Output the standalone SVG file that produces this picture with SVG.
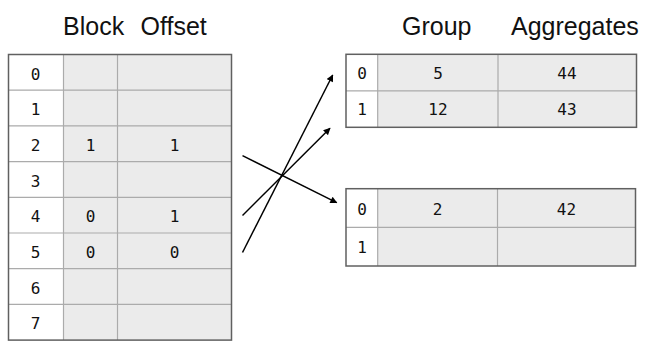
<svg xmlns="http://www.w3.org/2000/svg" width="652" height="351" viewBox="0 0 652 351">
<defs>
<style>
.hdr{font-family:"Liberation Sans",Arial,sans-serif;font-size:25px;fill:#111;}
.num{font-family:"DejaVu Sans Mono",monospace;font-size:16px;fill:#111;text-anchor:middle;}
.cell{fill:#ebebeb;}
.white{fill:#ffffff;}
.grid{stroke:#ababab;stroke-width:1.2;fill:none;}
.outer{stroke:#606060;stroke-width:1.5;fill:none;}
.conn{stroke:#000;stroke-width:1.5;fill:none;marker-end:url(#arr);}
</style>
<marker id="arr" viewBox="0 0 10 10" refX="9" refY="5" markerWidth="8" markerHeight="7" markerUnits="userSpaceOnUse" orient="auto">
<path d="M0,0 L10,5 L0,10 z" fill="#000"/>
</marker>
</defs>
<rect width="652" height="351" fill="#ffffff"/>

<g id="headers">
<text class="hdr" x="63" y="35">Block</text>
<text class="hdr" x="140.5" y="35">Offset</text>
<text class="hdr" x="402" y="35">Group</text>
<text class="hdr" x="511" y="35">Aggregates</text>
</g>

<g id="block-offset-table">
<rect class="white" x="8.5" y="54.5" width="55" height="285.6"/>
<rect class="cell" x="63.5" y="54.5" width="168" height="285.6"/>
<path class="grid" d="M63.5,54.5V340.1M117.5,54.5V340.1M8.5,90.2H231.5M8.5,125.9H231.5M8.5,161.6H231.5M8.5,197.3H231.5M8.5,233H231.5M8.5,268.7H231.5M8.5,304.4H231.5"/>
<rect class="outer" x="8.5" y="54.5" width="223" height="285.6"/>
<text class="num" x="35.5" y="79.5">0</text>
<text class="num" x="35.5" y="115.2">1</text>
<text class="num" x="35.5" y="150.9">2</text>
<text class="num" x="35.5" y="186.6">3</text>
<text class="num" x="35.5" y="222.3">4</text>
<text class="num" x="35.5" y="258">5</text>
<text class="num" x="35.5" y="293.7">6</text>
<text class="num" x="35.5" y="329.4">7</text>
<text class="num" x="90.5" y="150.9">1</text>
<text class="num" x="174.5" y="150.9">1</text>
<text class="num" x="90.5" y="222.3">0</text>
<text class="num" x="174.5" y="222.3">1</text>
<text class="num" x="90.5" y="258">0</text>
<text class="num" x="174.5" y="258">0</text>
</g>

<g id="group-table-1">
<rect class="white" x="346" y="54.3" width="31.7" height="73"/>
<rect class="cell" x="377.7" y="54.3" width="258.8" height="73"/>
<path class="grid" d="M377.7,54.3V127.3M498,54.3V127.3M346,90.8H636.5"/>
<rect class="outer" x="346" y="54.3" width="290.5" height="73"/>
<text class="num" x="362" y="78.5">0</text>
<text class="num" x="362" y="115">1</text>
<text class="num" x="438" y="78.5">5</text>
<text class="num" x="567" y="78.5">44</text>
<text class="num" x="438" y="115">12</text>
<text class="num" x="567" y="115">43</text>
</g>

<g id="group-table-2">
<rect class="white" x="346" y="188.7" width="31.7" height="77.3"/>
<rect class="cell" x="377.7" y="188.7" width="257.8" height="77.3"/>
<path class="grid" d="M377.7,188.7V266M497.5,188.7V266M346,227.3H635.5"/>
<rect class="outer" x="346" y="188.7" width="289.5" height="77.3"/>
<text class="num" x="362" y="214.5">0</text>
<text class="num" x="362" y="253">1</text>
<text class="num" x="437.5" y="214.5">2</text>
<text class="num" x="566.5" y="214.5">42</text>
</g>

<g id="connectors">
<line class="conn" x1="242.5" y1="252.5" x2="332.7" y2="75"/>
<line class="conn" x1="242.5" y1="215.5" x2="330" y2="128.3"/>
<line class="conn" x1="242.5" y1="155.7" x2="336.7" y2="202.7"/>
</g>
</svg>
